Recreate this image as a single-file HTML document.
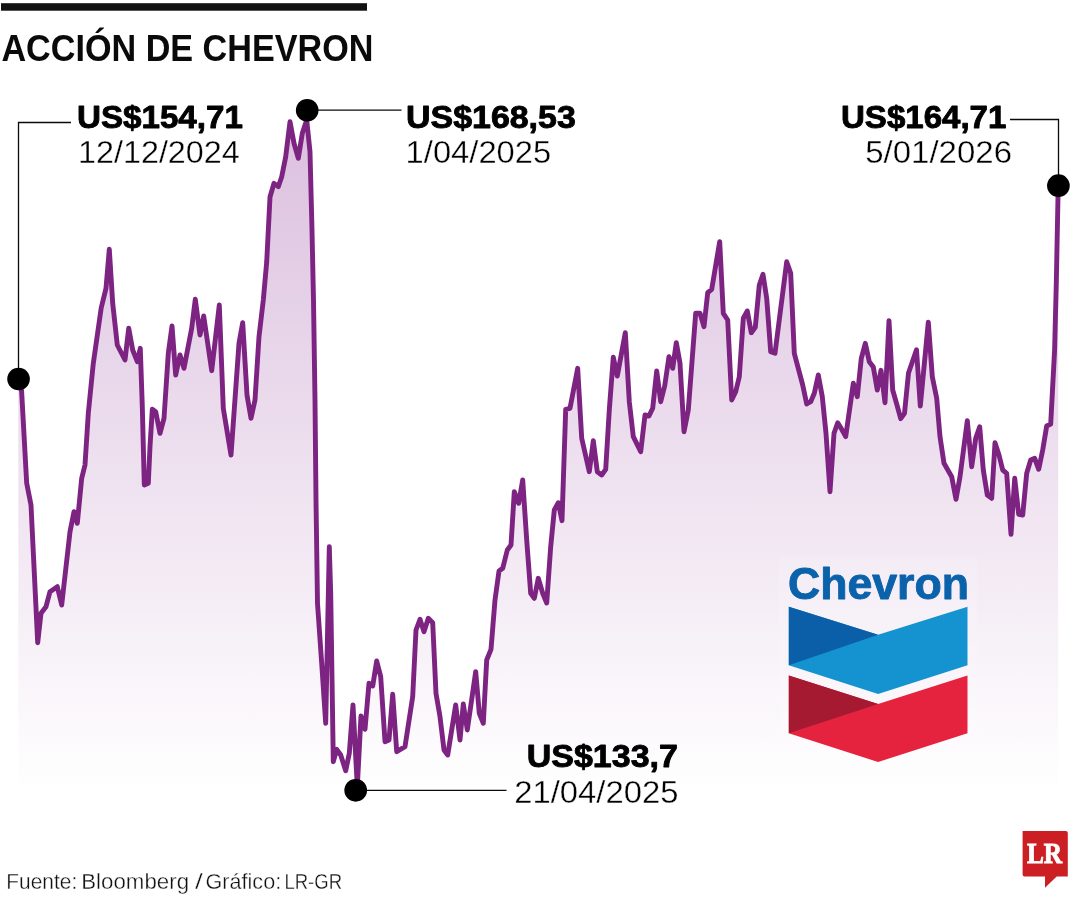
<!DOCTYPE html>
<html lang="es">
<head>
<meta charset="utf-8">
<title>Acción de Chevron</title>
<style>
html,body{margin:0;padding:0;background:#fff;}
body{width:1080px;height:900px;position:relative;overflow:hidden;font-family:"Liberation Sans",sans-serif;color:#111;}
svg{position:absolute;left:0;top:0;display:block;}
text{white-space:pre;}
</style>
</head>
<body>
<svg width="1080" height="900" viewBox="0 0 1080 900">
<defs>
<linearGradient id="g" x1="0" y1="110" x2="0" y2="790" gradientUnits="userSpaceOnUse">
<stop offset="0" stop-color="#dbbfde"/>
<stop offset="1" stop-color="#ffffff"/>
</linearGradient>
</defs>
<polygon points="18.3,795 18.3,379.0 21.6,391.0 26.7,483.3 31.0,505.0 37.7,642.7 41.0,613.3 46.0,606.7 50.0,591.7 57.3,586.7 61.7,605.0 70.0,531.7 74.0,511.7 77.3,523.3 81.7,478.3 85.0,465.0 88.3,413.3 93.3,363.3 101.2,308.0 106.0,288.3 109.3,249.3 112.7,303.3 117.3,345.0 125.0,360.0 128.7,328.3 132.7,350.0 137.3,361.7 140.3,348.3 142.3,406.7 144.3,485.0 148.3,483.3 150.0,446.7 152.3,409.3 155.7,411.7 160.0,433.3 164.0,418.3 168.3,353.3 172.0,326.0 175.7,375.0 180.0,355.0 184.0,368.3 191.7,328.3 195.3,299.3 200.0,335.0 203.7,316.0 211.7,370.7 219.3,305.0 223.3,408.3 231.0,455.0 239.0,343.3 242.7,322.7 247.0,395.0 251.0,418.3 255.0,400.0 259.0,336.7 263.3,300.0 266.7,262.0 270.0,197.0 274.0,183.3 278.3,186.7 281.7,176.7 285.7,156.7 290.0,121.7 294.0,143.3 298.3,158.3 302.3,133.3 306.7,120.0 310.0,151.7 312.0,230.0 313.5,300.0 315.0,400.0 316.0,500.0 317.5,603.3 321.7,663.3 325.7,723.3 329.3,546.7 330.7,593.3 333.3,761.7 336.7,749.3 340.7,755.0 345.7,770.7 349.3,753.3 353.0,705.0 357.3,786.7 361.0,716.0 365.0,729.3 369.0,683.3 372.7,686.0 376.7,661.0 380.7,676.7 385.0,741.7 389.0,740.0 392.7,694.3 396.7,751.7 405.0,746.7 412.7,696.7 416.0,630.0 420.0,619.3 424.0,631.7 428.3,618.3 432.7,622.7 436.0,693.3 440.0,716.7 444.0,750.0 447.7,755.0 455.7,705.0 460.0,740.0 463.3,704.0 467.3,730.0 475.7,671.7 479.3,713.3 483.3,723.3 486.7,660.0 491.0,649.3 495.0,600.0 499.0,571.0 502.7,568.3 507.3,550.0 511.0,545.0 514.3,491.7 518.7,503.3 522.7,480.0 526.7,540.0 530.7,593.3 534.3,598.3 538.3,578.3 542.7,593.3 546.7,603.0 550.7,546.7 554.3,510.0 558.3,502.7 562.0,520.7 565.7,409.3 570.0,408.3 577.7,368.3 581.7,438.3 589.3,471.7 593.3,440.7 597.3,471.7 601.7,475.0 605.7,469.3 609.3,410.0 613.3,357.3 617.3,376.0 625.3,332.7 629.3,401.7 633.3,436.7 640.7,451.7 645.0,415.0 649.0,416.0 652.7,408.3 656.7,371.0 660.7,401.7 664.7,386.0 669.0,356.7 672.7,368.3 676.3,342.7 680.0,363.3 684.0,431.7 688.3,410.0 695.7,313.3 700.0,313.3 704.0,326.7 707.7,292.7 711.7,289.3 719.7,241.7 723.3,313.3 727.7,320.0 731.7,400.0 735.7,391.7 739.3,376.7 743.3,318.3 747.3,311.0 751.3,332.7 755.3,327.3 759.3,285.0 763.0,274.3 766.7,298.3 770.7,351.7 775.0,353.3 786.7,261.7 790.7,273.3 794.3,353.3 802.7,385.0 806.7,404.0 810.7,401.7 814.3,393.3 818.3,375.0 822.3,396.7 826.0,433.3 830.0,491.7 834.0,433.3 837.7,422.7 841.7,429.3 845.7,436.7 853.3,383.3 857.3,396.7 861.3,358.3 865.3,343.3 869.3,361.7 873.3,367.0 877.3,390.0 881.0,370.3 885.0,402.7 889.0,320.7 892.7,390.0 896.7,404.0 900.7,418.7 904.5,413.3 908.5,373.0 916.5,349.7 920.3,406.0 928.3,322.3 932.3,376.7 936.7,398.3 940.0,436.7 944.0,463.3 951.7,476.7 956.0,499.3 960.0,476.7 967.3,420.7 971.7,466.7 975.7,438.3 979.7,426.7 983.3,470.0 987.3,495.0 991.7,498.3 995.0,442.7 999.0,455.0 1002.7,470.0 1006.7,473.3 1011.0,534.3 1014.7,478.3 1018.7,514.3 1022.7,515.0 1026.7,473.3 1030.7,460.0 1034.7,458.3 1038.7,469.3 1042.7,450.0 1046.7,426.0 1050.7,424.0 1054.6,350.0 1056.3,283.3 1058.2,186.0 1058.2,795" fill="url(#g)"/>
<polyline points="18.3,379.0 21.6,391.0 26.7,483.3 31.0,505.0 37.7,642.7 41.0,613.3 46.0,606.7 50.0,591.7 57.3,586.7 61.7,605.0 70.0,531.7 74.0,511.7 77.3,523.3 81.7,478.3 85.0,465.0 88.3,413.3 93.3,363.3 101.2,308.0 106.0,288.3 109.3,249.3 112.7,303.3 117.3,345.0 125.0,360.0 128.7,328.3 132.7,350.0 137.3,361.7 140.3,348.3 142.3,406.7 144.3,485.0 148.3,483.3 150.0,446.7 152.3,409.3 155.7,411.7 160.0,433.3 164.0,418.3 168.3,353.3 172.0,326.0 175.7,375.0 180.0,355.0 184.0,368.3 191.7,328.3 195.3,299.3 200.0,335.0 203.7,316.0 211.7,370.7 219.3,305.0 223.3,408.3 231.0,455.0 239.0,343.3 242.7,322.7 247.0,395.0 251.0,418.3 255.0,400.0 259.0,336.7 263.3,300.0 266.7,262.0 270.0,197.0 274.0,183.3 278.3,186.7 281.7,176.7 285.7,156.7 290.0,121.7 294.0,143.3 298.3,158.3 302.3,133.3 306.7,120.0 310.0,151.7 312.0,230.0 313.5,300.0 315.0,400.0 316.0,500.0 317.5,603.3 321.7,663.3 325.7,723.3 329.3,546.7 330.7,593.3 333.3,761.7 336.7,749.3 340.7,755.0 345.7,770.7 349.3,753.3 353.0,705.0 357.3,786.7 361.0,716.0 365.0,729.3 369.0,683.3 372.7,686.0 376.7,661.0 380.7,676.7 385.0,741.7 389.0,740.0 392.7,694.3 396.7,751.7 405.0,746.7 412.7,696.7 416.0,630.0 420.0,619.3 424.0,631.7 428.3,618.3 432.7,622.7 436.0,693.3 440.0,716.7 444.0,750.0 447.7,755.0 455.7,705.0 460.0,740.0 463.3,704.0 467.3,730.0 475.7,671.7 479.3,713.3 483.3,723.3 486.7,660.0 491.0,649.3 495.0,600.0 499.0,571.0 502.7,568.3 507.3,550.0 511.0,545.0 514.3,491.7 518.7,503.3 522.7,480.0 526.7,540.0 530.7,593.3 534.3,598.3 538.3,578.3 542.7,593.3 546.7,603.0 550.7,546.7 554.3,510.0 558.3,502.7 562.0,520.7 565.7,409.3 570.0,408.3 577.7,368.3 581.7,438.3 589.3,471.7 593.3,440.7 597.3,471.7 601.7,475.0 605.7,469.3 609.3,410.0 613.3,357.3 617.3,376.0 625.3,332.7 629.3,401.7 633.3,436.7 640.7,451.7 645.0,415.0 649.0,416.0 652.7,408.3 656.7,371.0 660.7,401.7 664.7,386.0 669.0,356.7 672.7,368.3 676.3,342.7 680.0,363.3 684.0,431.7 688.3,410.0 695.7,313.3 700.0,313.3 704.0,326.7 707.7,292.7 711.7,289.3 719.7,241.7 723.3,313.3 727.7,320.0 731.7,400.0 735.7,391.7 739.3,376.7 743.3,318.3 747.3,311.0 751.3,332.7 755.3,327.3 759.3,285.0 763.0,274.3 766.7,298.3 770.7,351.7 775.0,353.3 786.7,261.7 790.7,273.3 794.3,353.3 802.7,385.0 806.7,404.0 810.7,401.7 814.3,393.3 818.3,375.0 822.3,396.7 826.0,433.3 830.0,491.7 834.0,433.3 837.7,422.7 841.7,429.3 845.7,436.7 853.3,383.3 857.3,396.7 861.3,358.3 865.3,343.3 869.3,361.7 873.3,367.0 877.3,390.0 881.0,370.3 885.0,402.7 889.0,320.7 892.7,390.0 896.7,404.0 900.7,418.7 904.5,413.3 908.5,373.0 916.5,349.7 920.3,406.0 928.3,322.3 932.3,376.7 936.7,398.3 940.0,436.7 944.0,463.3 951.7,476.7 956.0,499.3 960.0,476.7 967.3,420.7 971.7,466.7 975.7,438.3 979.7,426.7 983.3,470.0 987.3,495.0 991.7,498.3 995.0,442.7 999.0,455.0 1002.7,470.0 1006.7,473.3 1011.0,534.3 1014.7,478.3 1018.7,514.3 1022.7,515.0 1026.7,473.3 1030.7,460.0 1034.7,458.3 1038.7,469.3 1042.7,450.0 1046.7,426.0 1050.7,424.0 1054.6,350.0 1056.3,283.3 1058.2,186.0" fill="none" stroke="#7d2382" stroke-width="4.9" stroke-linejoin="round" stroke-linecap="round"/>
<g stroke="#0a0a0a" stroke-width="1.3" fill="none">
<polyline points="18.5,379 18.5,122.5 71,122.5"/>
<line x1="307" y1="110.1" x2="401.5" y2="110.1"/>
<line x1="356" y1="790.3" x2="506.5" y2="790.3"/>
<polyline points="1010,119.5 1058.5,119.5 1058.5,186"/>
</g>
<g fill="#000">
<circle cx="18.55" cy="379" r="11.3"/>
<circle cx="307.2" cy="110.2" r="11.3"/>
<circle cx="355.7" cy="790.3" r="11.35"/>
<circle cx="1058.4" cy="185.7" r="11.35"/>
</g>
<rect x="1" y="3.2" width="366" height="7.5" fill="#111"/>
<g>
<rect x="779" y="557" width="198" height="212" fill="#fff" opacity="0.15"/>
<polygon points="788.8,606.7 878.1,634.7 967.5,606.7 967.5,665.3 878.1,694.1 788.8,665.3" fill="#1593d1"/>
<polygon points="788.8,606.7 878.1,634.7 788.8,665.3" fill="#0b5ea8"/>
<polygon points="788.8,675.5 878.1,704 967.5,675.5 967.5,733.3 878.1,761.9 788.8,733.3" fill="#e6233f"/>
<polygon points="788.8,675.5 878.1,704 788.8,733.3" fill="#a51a30"/>
</g>
<g>
<path d="M1024.6,831.1 H1065.8 Q1067.8,831.1 1067.8,833.1 V876.4 H1056.7 L1045,887.8 V876.4 H1024.6 Q1022.6,876.4 1022.6,874.4 V831.1 Z" fill="#cc1f24"/>
</g>
<text id="title" x="1.40" y="60.70" font-family="'Liberation Sans', sans-serif" font-size="36.3" fill="#0a0a0a" font-weight="bold" stroke="#000" stroke-width="0" stroke-linejoin="round" textLength="372.09" lengthAdjust="spacingAndGlyphs">ACCIÓN DE CHEVRON</text>
<text id="b1" x="77.02" y="127.50" font-family="'Liberation Sans', sans-serif" font-size="32.2" fill="#000" font-weight="bold" stroke="#000" stroke-width="0.9" stroke-linejoin="round" textLength="165.88" lengthAdjust="spacingAndGlyphs">US$154,71</text>
<text id="d1" x="78.01" y="163.10" font-family="'Liberation Sans', sans-serif" font-size="31.8" fill="#000" stroke="#fff" stroke-width="0.35" textLength="161.77" lengthAdjust="spacingAndGlyphs">12/12/2024</text>
<text id="b2" x="406.01" y="127.50" font-family="'Liberation Sans', sans-serif" font-size="32.2" fill="#000" font-weight="bold" stroke="#000" stroke-width="0.9" stroke-linejoin="round" textLength="169.80" lengthAdjust="spacingAndGlyphs">US$168,53</text>
<text id="d2" x="405.62" y="163.10" font-family="'Liberation Sans', sans-serif" font-size="31.8" fill="#000" stroke="#fff" stroke-width="0.35" textLength="145.58" lengthAdjust="spacingAndGlyphs">1/04/2025</text>
<text id="b3" x="841.01" y="127.50" font-family="'Liberation Sans', sans-serif" font-size="32.2" fill="#000" font-weight="bold" stroke="#000" stroke-width="0.9" stroke-linejoin="round" textLength="165.40" lengthAdjust="spacingAndGlyphs">US$164,71</text>
<text id="d3" x="865.22" y="163.10" font-family="'Liberation Sans', sans-serif" font-size="31.8" fill="#000" stroke="#fff" stroke-width="0.35" textLength="146.80" lengthAdjust="spacingAndGlyphs">5/01/2026</text>
<text id="b4" x="526.80" y="766.90" font-family="'Liberation Sans', sans-serif" font-size="32.2" fill="#000" font-weight="bold" stroke="#000" stroke-width="0.9" stroke-linejoin="round" textLength="151.08" lengthAdjust="spacingAndGlyphs">US$133,7</text>
<text id="d4" x="514.22" y="802.80" font-family="'Liberation Sans', sans-serif" font-size="31.8" fill="#000" stroke="#fff" stroke-width="0.35" textLength="164.19" lengthAdjust="spacingAndGlyphs">21/04/2025</text>
<text id="chev" x="787.92" y="599.40" font-family="'Liberation Sans', sans-serif" font-weight="bold" font-size="45" fill="#0a62ab" stroke="#0a62ab" stroke-width="0.9" stroke-linejoin="round" textLength="181.13" lengthAdjust="spacingAndGlyphs">Chevron</text>
<text id="lr" x="1026.89" y="863.10" font-family="'Liberation Serif', serif" font-weight="bold" font-size="30" fill="#fff" stroke="#fff" stroke-width="0.9" stroke-linejoin="miter" textLength="35.21" lengthAdjust="spacingAndGlyphs">LR</text>
<text id="foot" y="888.90" font-family="'Liberation Sans', sans-serif" font-size="22.2" fill="#111" stroke="#fff" stroke-width="0.35"><tspan id="f1" x="6.36" textLength="70.87" lengthAdjust="spacingAndGlyphs">Fuente:</tspan> <tspan id="f2" x="81.19" textLength="107.86" lengthAdjust="spacingAndGlyphs">Bloomberg</tspan> <tspan id="f3" x="195.00" textLength="7.80" lengthAdjust="spacingAndGlyphs">/</tspan> <tspan id="f4" x="205.56" textLength="75.60" lengthAdjust="spacingAndGlyphs">Gráfico:</tspan> <tspan id="f5" x="284.47" textLength="57.57" lengthAdjust="spacingAndGlyphs">LR-GR</tspan></text>
</svg>
</body>
</html>
